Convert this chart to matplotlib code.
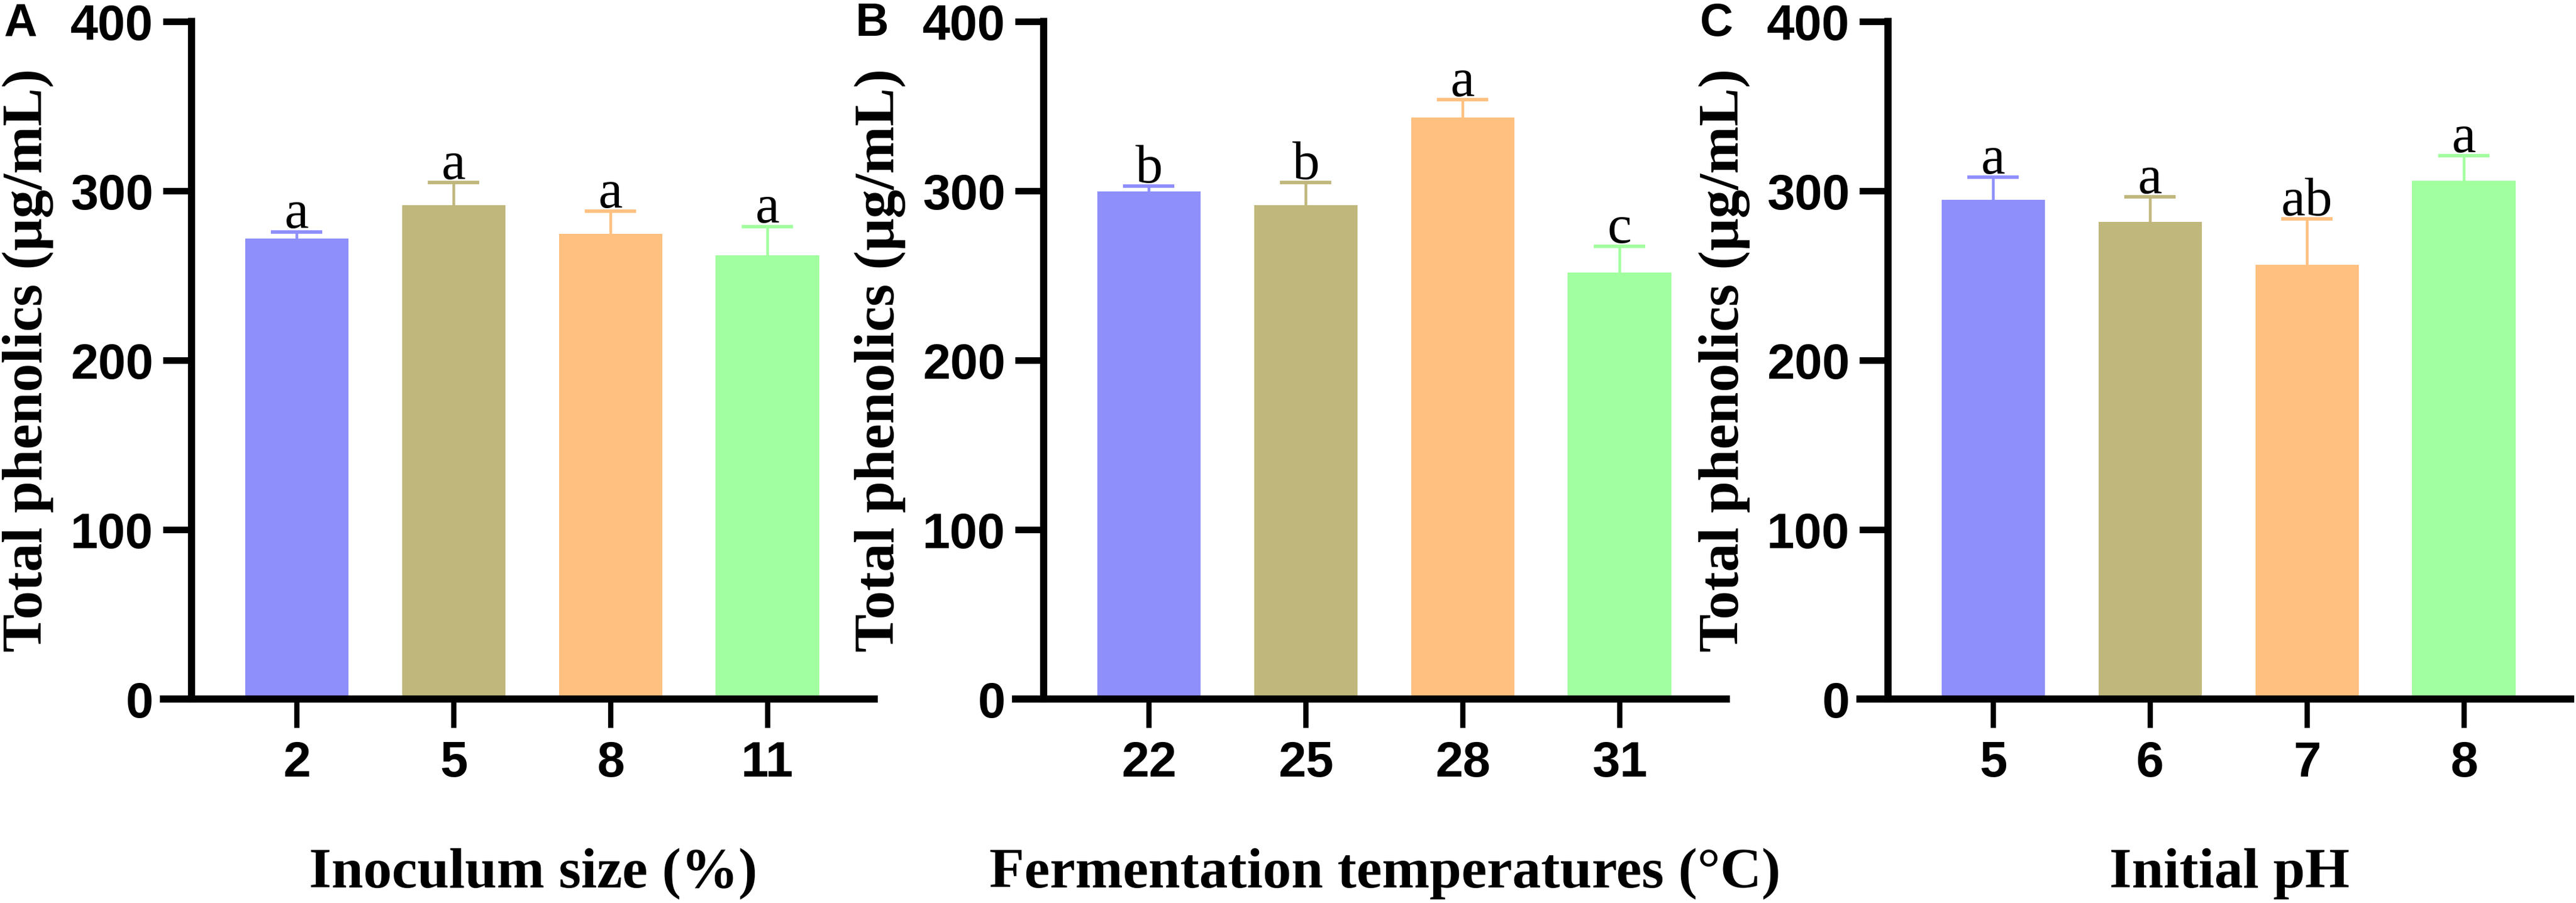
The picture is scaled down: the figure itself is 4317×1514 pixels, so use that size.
import matplotlib
matplotlib.use("Agg")
import matplotlib.pyplot as plt

# ---- data ----
panel_labels = ["A", "B", "C"]
x_titles = ["Inoculum size (%)", "Fermentation temperatures (°C)", "Initial pH"]
y_title = "Total phenolics (μg/mL)"
categories_A = ["2", "5", "8", "11"]
categories_B = ["22", "25", "28", "31"]
categories_C = ["5", "6", "7", "8"]
means_A = [271.8, 291.5, 274.6, 262.0]
means_B = [299.6, 291.5, 343.3, 251.8]
means_C = [294.7, 281.7, 256.3, 306.0]
errs_A = [4.0, 13.5, 13.5, 17.0]
errs_B = [3.2, 13.5, 10.6, 15.5]
errs_C = [13.3, 14.8, 27.2, 14.8]
letters_A = ["a", "a", "a", "a"]
letters_B = ["b", "b", "a", "c"]
letters_C = ["a", "a", "ab", "a"]
y_ticks = [0, 100, 200, 300, 400]

colors = ["#8F8FFC", "#C0B77C", "#FFC080", "#A2FF9F"]

W, H = 4317, 1514
DPI = 300
fig = plt.figure(figsize=(W / DPI, H / DPI), dpi=DPI)

sans = ["Liberation Sans", "DejaVu Sans"]
serif = ["Liberation Serif", "DejaVu Serif"]

lefts_px = [274, 1702, 3117]
ax_w_px = 1191
top_px, bot_px = 36, 1172
xmin, xmax, spine_x = -0.85, 3.68, -0.67

panels = [
    (categories_A, means_A, errs_A, letters_A),
    (categories_B, means_B, errs_B, letters_B),
    (categories_C, means_C, errs_C, letters_C),
]

for i, (cats, means, errs, lets) in enumerate(panels):
    l = lefts_px[i]
    ax = fig.add_axes([l / W, 1 - bot_px / H, ax_w_px / W, (bot_px - top_px) / H])
    xs = list(range(len(cats)))
    ax.bar(xs, means, width=0.66, color=colors, edgecolor="none", zorder=2)
    for x, m, e, c, t in zip(xs, means, errs, colors, lets):
        eb = ax.errorbar([x], [m], yerr=[[0], [e]], fmt="none", ecolor=c,
                         elinewidth=1.1, capsize=10.3, capthick=1.4, zorder=3)
        caps = eb.lines[1]
        if len(caps) > 1:
            caps[0].set_visible(False)
        ax.annotate(t, (x, m + e), xytext=(0, 1.5), textcoords="offset points",
                    ha="center", va="baseline", fontsize=22, family=serif)
    ax.set_xlim(xmin, xmax)
    ax.set_ylim(0, 400)
    ax.spines["top"].set_visible(False)
    ax.spines["right"].set_visible(False)
    ax.spines["left"].set_position(("data", spine_x))
    ax.spines["left"].set_linewidth(2.9)
    ax.spines["bottom"].set_linewidth(2.9)
    ax.set_yticks(y_ticks)
    ax.set_yticklabels([str(v) for v in y_ticks])
    ax.set_xticks(xs)
    ax.set_xticklabels(cats)
    ax.tick_params(axis="y", direction="out", length=11.5, width=2.64, pad=4)
    ax.tick_params(axis="x", direction="out", length=11.5, width=2.1, pad=5)
    for lab in ax.get_xticklabels() + ax.get_yticklabels():
        lab.set_fontfamily(sans)
        lab.set_fontweight("bold")
        lab.set_fontsize(20)
    frac_spine = (spine_x - xmin) / (xmax - xmin)
    ax.text((frac_spine + 1) / 2, (bot_px - 1488) / (bot_px - top_px), x_titles[i],
            transform=ax.transAxes, ha="center", va="baseline",
            fontsize=23, fontweight="bold", family=serif)
    spine_px = l + frac_spine * ax_w_px
    ax.text((spine_px - 275 - l) / ax_w_px, 0.5, y_title, transform=ax.transAxes,
            rotation=90, ha="center", va="center",
            fontsize=23, fontweight="bold", family=serif)
    fig.text((spine_px - 315) / W, 1 - 60 / H, panel_labels[i], ha="left",
             va="baseline", fontsize=18.5, fontweight="bold", family=sans)

fig.savefig("out.png", dpi=DPI)
